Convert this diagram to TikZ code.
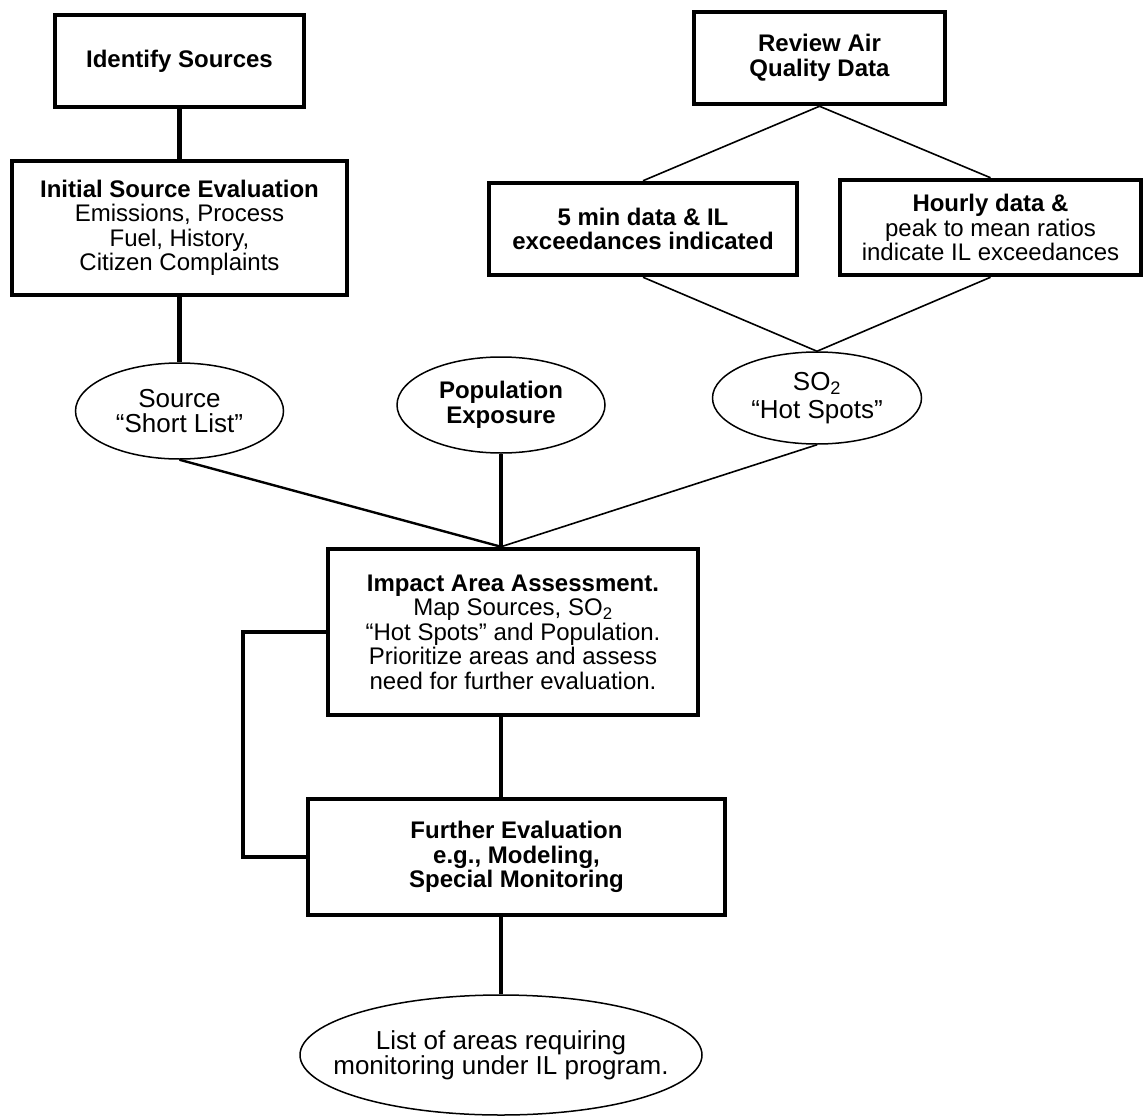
\documentclass[tikz,border=0pt]{standalone}
\usepackage{fontspec}
\setmainfont{Liberation Sans}
\usetikzlibrary{positioning,shapes.geometric}
\definecolor{ink}{RGB}{0,0,0}
\tikzset{
  blk/.style={draw=ink,line width=4.5pt,align=center,inner sep=0pt,text=ink},
  oval/.style={ellipse,draw=ink,line width=1.5pt,align=center,inner sep=0pt,text=ink,
    font=\fontsize{26}{25}\selectfont},
  heavy/.style={draw=ink,line width=4.5pt},
  thinline/.style={draw=ink,line width=1.6pt}
}

\begin{document}
\begin{tikzpicture}[x=1pt,y=-1pt,
    every node/.style={font=\fontsize{24}{24.5}\selectfont}]
  \useasboundingbox (0,0) rectangle (1145,1118);

  % boxes
  \node[blk,minimum width=249pt,minimum height=92pt] (ident) at (179.5,61)
    {\textbf{Identify Sources}};
  \node[blk,minimum width=251pt,minimum height=92pt] (review) at (819.5,58)
    {\textbf{Review Air}\\\textbf{Quality Data}};
  \node[blk,minimum width=335pt,minimum height=134pt] (initial) at (179.5,228)
    {\textbf{Initial Source Evaluation}\\Emissions, Process\\Fuel, History,\\Citizen Complaints};
  \node[blk,minimum width=308pt,minimum height=92pt] (min5) at (643,229)
    {\textbf{5 min data \& IL}\\\textbf{exceedances indicated}};
  \node[blk,minimum width=301pt,minimum height=95pt] (hourly) at (990.5,227.5)
    {\textbf{Hourly data \&}\\peak to mean ratios\\indicate IL exceedances};

  % ovals
  \node[oval,minimum width=208pt,minimum height=96pt] (source) at (179.5,411)
    {Source\\“Short List”};
  \node[oval,minimum width=208pt,minimum height=96pt,
    font=\fontsize{24}{25}\selectfont] (pop) at (501,405)
    {\textbf{Population}\\\textbf{Exposure}};
  \node[oval,minimum width=209pt,minimum height=92pt,
    font=\fontsize{26}{27.5}\selectfont] (so2) at (817,398)
    {SO\textsubscript{2}\\“Hot Spots”};

  \node[blk,minimum width=370pt,minimum height=166pt] (impact) at (513,632)
    {\textbf{Impact Area Assessment.}\\Map Sources, SO\textsubscript{2}\\“Hot Spots” and Population.\\Prioritize areas and assess\\need for further evaluation.};
  \node[blk,minimum width=417pt,minimum height=116pt] (further) at (516.5,857)
    {\textbf{Further Evaluation}\\\textbf{e.g., Modeling,}\\\textbf{Special Monitoring}};
  \node[oval,minimum width=402pt,minimum height=120pt,inner xsep=-32pt] (list) at (501,1055)
    {List of areas requiring\\monitoring under IL program.};

  \coordinate (hub) at (pop.south |- impact.north);

  % connectors
  \draw[heavy] (ident) -- (initial);
  \draw[heavy] (initial.south) -- (source.north);
  \draw[thinline] (review.south) -- (min5.north);
  \draw[thinline] (review.south) -- (hourly.north);
  \draw[thinline] (min5.south) -- (so2.north);
  \draw[thinline] (hourly.south) -- (so2.north);
  \draw[draw=ink,line width=2.4pt] (source.south) -- (hub);
  \draw[heavy] (pop.south) -- (hub);
  \draw[thinline] (so2.south) -- (hub);
  \draw[heavy] (impact.south -| hub) -- (further.north -| hub);
  \draw[heavy] (further.south -| list.north) -- (list.north);
  \draw[heavy] (impact.west) -- ++(-83,0) |- (further.west);
\end{tikzpicture}
\end{document}
